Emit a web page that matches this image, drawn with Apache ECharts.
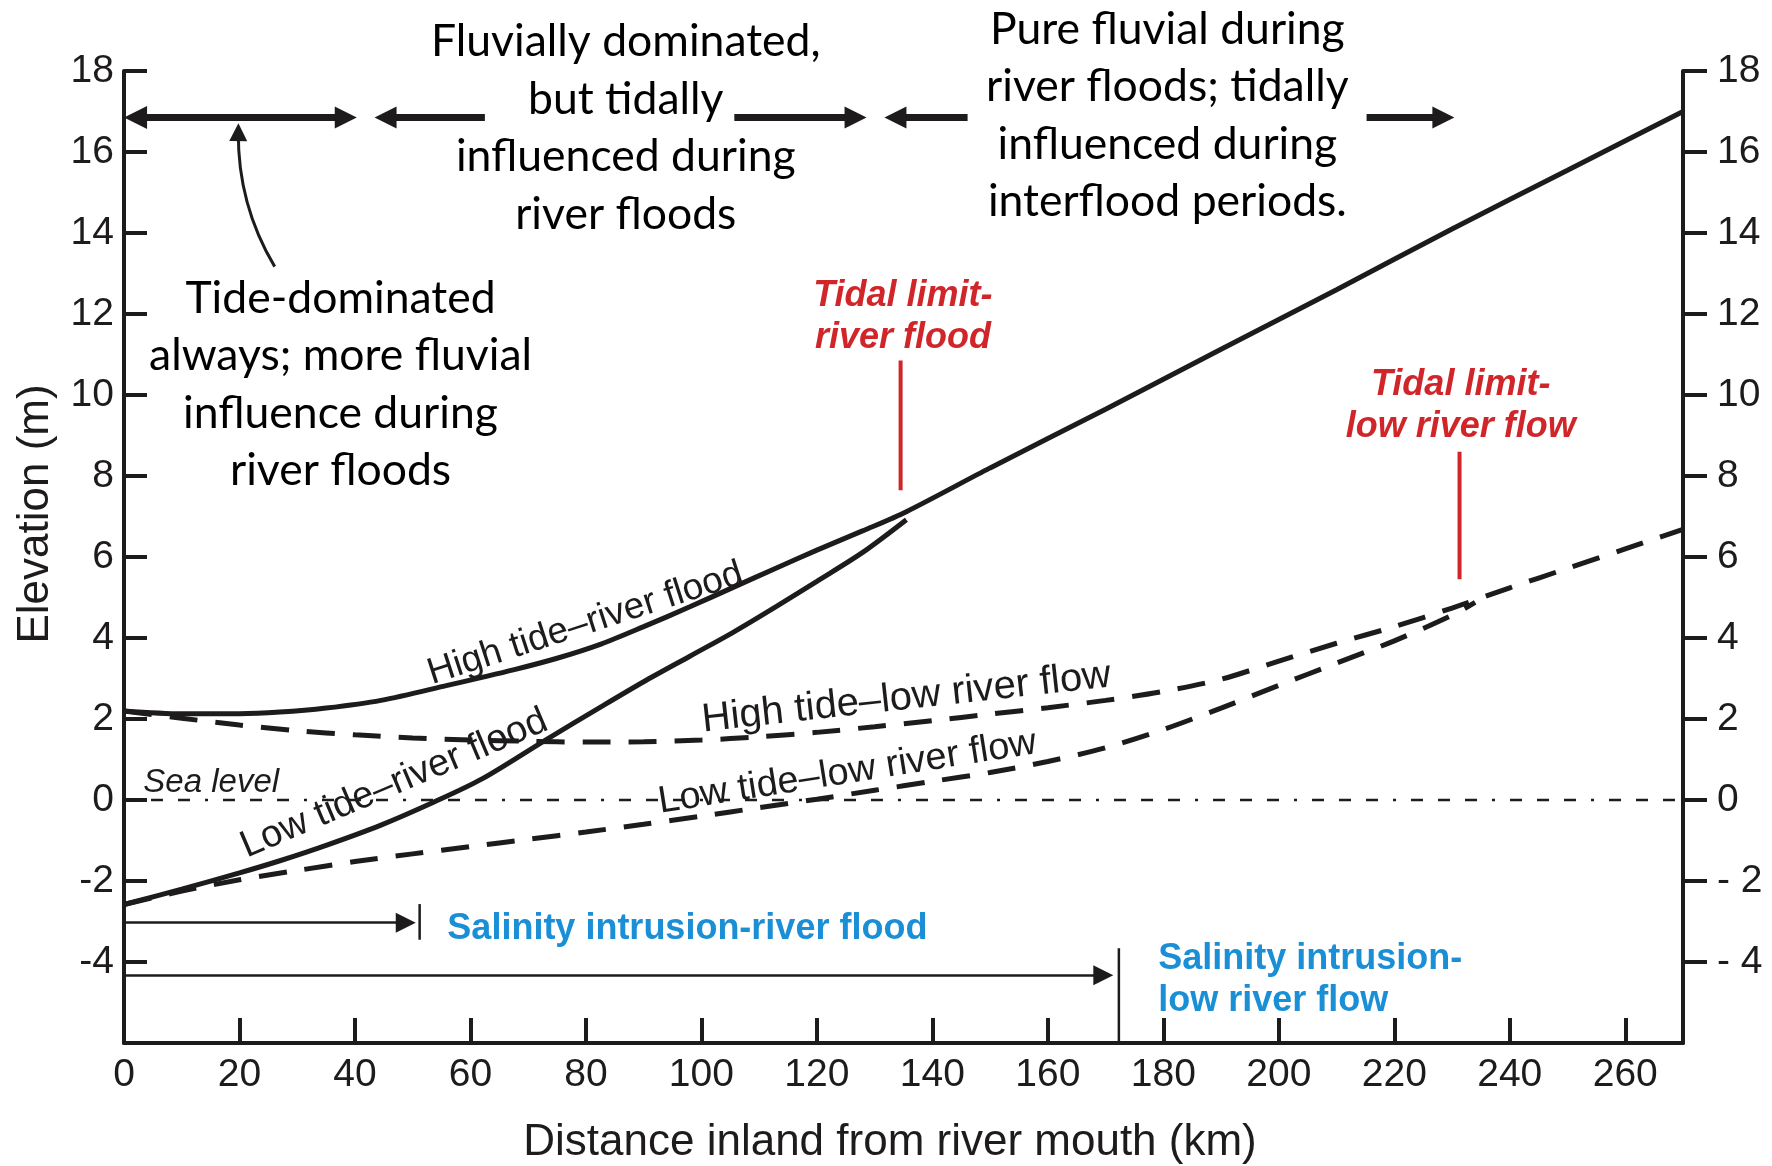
<!DOCTYPE html>
<html>
<head>
<meta charset="utf-8">
<title>Tidal and fluvial zones along a river</title>
<script src="https://cdn.jsdelivr.net/npm/echarts@6/dist/echarts.min.js"></script>
<style>
  html, body { margin: 0; padding: 0; background: #ffffff; }
  #chart { width: 1772px; height: 1166px; }
</style>
</head>
<body>
<div id="chart"></div>
<script>
// ---- axis ticks ----
const distanceTicks = [0, 20, 40, 60, 80, 100, 120, 140, 160, 180, 200, 220, 240, 260];
const elevationTicks = [-4, -2, 0, 2, 4, 6, 8, 10, 12, 14, 16, 18];

// ---- water-surface profiles: [distance km, elevation m] ----
const highTideRiverFlood = [
  [0, 2.2], [10, 2.13], [20, 2.13], [27, 2.17], [35, 2.27], [44.5, 2.46], [56, 2.83],
  [67.6, 3.22], [75, 3.5], [82.6, 3.85], [90, 4.28], [98, 4.77], [105.5, 5.25],
  [113, 5.73], [120, 6.17], [128, 6.65], [135.5, 7.12], [150, 8.2], [170, 9.65],
  [190, 11.13], [210, 12.6], [230, 14.1], [250, 15.55], [270, 17.0]
];
const lowTideRiverFlood = [
  [0, -2.58], [10, -2.2], [20, -1.8], [27, -1.5], [35, -1.12], [44.5, -0.62], [53.7, -0.05],
  [62, 0.52], [73, 1.48], [82.6, 2.3], [90, 2.92], [98, 3.55], [105.5, 4.14],
  [113, 4.78], [120, 5.4], [128, 6.12], [135.5, 6.92]
];
const highTideLowFlow = [
  [0, 2.2], [10, 2.02], [20, 1.85], [30, 1.71], [40, 1.61], [50, 1.53], [60, 1.48],
  [70, 1.45], [80, 1.43], [90, 1.44], [100, 1.48], [110, 1.56], [120, 1.67],
  [130, 1.81], [140, 1.96], [150, 2.12], [160, 2.28], [170, 2.46], [180, 2.68],
  [190, 2.98], [200, 3.43], [210, 3.87], [220, 4.28], [230, 4.74], [240, 5.24],
  [250, 5.72], [260, 6.2], [270, 6.68]
];
const lowTideLowFlow = [
  [0, -2.58], [10, -2.25], [20, -1.97], [30, -1.74], [40, -1.52], [50, -1.33],
  [60, -1.15], [70, -0.97], [80, -0.79], [90, -0.6], [100, -0.4], [110, -0.19],
  [120, 0.02], [130, 0.24], [140, 0.46], [150, 0.68], [160, 0.95], [170, 1.29],
  [180, 1.74], [190, 2.27], [200, 2.83], [210, 3.38], [220, 3.93], [230, 4.56], [234, 4.88]
];
const seaLevel = [[0, 0], [270, 0]];

// ---- tidal limits (red markers) ----
const tidalLimitFlood = [[134.5, 7.65], [134.5, 10.85]];
const tidalLimitLowFlow = [[231.3, 5.45], [231.3, 8.6]];

// ---- salinity intrusion reaches ----
const salinityFloodArrow = [[0, -3.03], [48.8, -3.03]];
const salinityFloodLimit = [[51.2, -2.57], [51.2, -3.45]];
const salinityLowFlowArrow = [[0, -4.33], [169.6, -4.33]];
const salinityLowFlowLimit = [[172.3, -3.66], [172.3, -6]];

// ---- zone arrows along the top ----
const zoneSpanBoth = [[2.0, 16.85], [38.4, 16.85]];
const zoneSpans = [
  [[62.5, 16.85], [45.3, 16.85]],
  [[105.7, 16.85], [126.7, 16.85]],
  [[146.1, 16.85], [133.6, 16.85]],
  [[215.2, 16.85], [228.5, 16.85]]
];
const tidePointer = [[26.1, 13.17], [19.8, 16.49]];

// ---- text ----
const zoneTexts = [
  'Tide-dominated\nalways; more fluvial\ninfluence during\nriver floods',
  'Fluvially dominated,\nbut tidally\ninfluenced during\nriver floods',
  'Pure fluvial during\nriver floods; tidally\ninfluenced during\ninterflood periods.'
];
const curveNames = [
  'High tide\u2013river flood',
  'Low tide\u2013river flood',
  'High tide\u2013low river flow',
  'Low tide\u2013low river flow'
];
const tidalLimitTexts = ['Tidal limit-\nriver flood', 'Tidal limit-\nlow river flow'];
const salinityTexts = ['Salinity intrusion-river flood', 'Salinity intrusion-\nlow river flow'];

const INK = '#1e1b1c';
const RED = '#d0262a';
const BLUE = '#1a8fd6';
const SANS = '"Liberation Sans", Arial, Helvetica, sans-serif';
const HUMANIST = 'Lato, "Open Sans", sans-serif';
const TRIANGLE = 'path://M5,0L10,10L0,10Z';

function profile(name, data, dashed) {
  return {
    type: 'line', name: name, data: data, showSymbol: false, symbol: 'none',
    smooth: 0.3, clip: false, silent: true, z: 4,
    lineStyle: { color: INK, width: 5, type: dashed ? [28, 18] : 'solid', cap: 'butt', opacity: 1 }
  };
}
function segment(data, color, width, type) {
  return {
    type: 'line', data: data, showSymbol: false, symbol: 'none', clip: false, silent: true, z: 3,
    lineStyle: { color: color, width: width, type: type || 'solid', cap: 'butt', opacity: 1 }
  };
}
function arrows(list, symbols, size, width, curveness) {
  return {
    type: 'lines', coordinateSystem: 'cartesian2d', polyline: false, silent: true, z: 5,
    symbol: symbols, symbolSize: size,
    lineStyle: { color: INK, width: width, opacity: 1, curveness: curveness || 0 },
    itemStyle: { color: INK, opacity: 1 },
    data: list.map(function (c) { return { coords: c }; })
  };
}
function note(text, x, y, style) {
  return {
    value: [x, y],
    label: Object.assign({ show: true, formatter: text, position: 'inside',
      align: 'center', verticalAlign: 'middle', color: INK }, style)
  };
}

const calibriLike = { fontFamily: HUMANIST, fontSize: 44.5, lineHeight: 57.5, color: '#000000' };
const curveLabel = { fontFamily: SANS, fontSize: 37 };
const redLabel = { fontFamily: SANS, fontSize: 36, fontWeight: 'bold', fontStyle: 'italic', color: RED, lineHeight: 42 };
const blueLabel = { fontFamily: SANS, fontSize: 36, fontWeight: 'bold', color: BLUE, lineHeight: 42, align: 'left' };

const notes = [
  note(zoneTexts[0], 37.5, 10.25, calibriLike),
  note(zoneTexts[1], 86.9, 16.59, calibriLike),
  note(zoneTexts[2], 180.7, 16.9, calibriLike),
  note(curveNames[0], 79.9, 4.35, Object.assign({ rotate: 18 }, curveLabel)),
  note(curveNames[1], 46.8, 0.4, Object.assign({ rotate: 23 }, curveLabel, { fontSize: 38 })),
  note(curveNames[2], 135.5, 2.52, Object.assign({ rotate: 6.3 }, curveLabel, { fontSize: 40 })),
  note(curveNames[3], 125.3, 0.68, Object.assign({ rotate: 9 }, curveLabel, { fontSize: 38 })),
  note('Sea level', 15.1, 0.43, { fontFamily: SANS, fontSize: 33, fontStyle: 'italic' }),
  note(tidalLimitTexts[0], 134.9, 11.92, redLabel),
  note(tidalLimitTexts[1], 231.5, 9.73, redLabel),
  note(salinityTexts[0], 56.0, -3.18, blueLabel),
  note(salinityTexts[1], 179.1, -4.44, blueLabel)
];

const axisInk = { color: INK, width: 4 };
const tickFont = { fontFamily: SANS, fontSize: 39, color: '#1e1b1c' };

const chart = echarts.init(document.getElementById('chart'), null, { renderer: 'canvas' });
chart.setOption({
  backgroundColor: '#ffffff',
  animation: false,
  grid: { left: 124, right: 89, top: 71, bottom: 123, containLabel: false, outerBoundsMode: 'none' },
  xAxis: {
    type: 'value', min: 0, max: 270,
    axisLine: { show: true, onZero: false, lineStyle: axisInk },
    axisTick: { show: true, inside: true, length: 25, lineStyle: axisInk,
      customValues: distanceTicks.filter(function (v) { return v > 0; }) },
    axisLabel: Object.assign({ margin: 13, customValues: distanceTicks }, tickFont),
    splitLine: { show: false }
  },
  yAxis: [
    {
      type: 'value', min: -6, max: 18, position: 'left',
      axisLine: { show: true, onZero: false, lineStyle: axisInk },
      axisTick: { show: true, inside: true, length: 23, lineStyle: axisInk, customValues: elevationTicks },
      axisLabel: Object.assign({ margin: 10, customValues: elevationTicks }, tickFont),
      splitLine: { show: false }
    },
    {
      type: 'value', min: -6, max: 18, position: 'right',
      axisLine: { show: true, onZero: false, lineStyle: axisInk },
      axisTick: { show: true, inside: false, length: 24, lineStyle: axisInk, customValues: elevationTicks },
      axisLabel: Object.assign({
        margin: 34, customValues: elevationTicks,
        formatter: function (v) { return v < 0 ? '- ' + Math.abs(v) : String(v); }
      }, tickFont),
      splitLine: { show: false }
    }
  ],
  graphic: [
    {
      type: 'text', x: 36, y: 514, rotation: Math.PI / 2, silent: true,
      style: { text: 'Elevation (m)', fontFamily: SANS, fontSize: 44, fill: '#1e1b1c',
        align: 'center', verticalAlign: 'middle', textAlign: 'center', textVerticalAlign: 'middle' }
    },
    {
      type: 'text', x: 890, y: 1143, silent: true,
      style: { text: 'Distance inland from river mouth (km)', fontFamily: SANS, fontSize: 44, fill: '#1e1b1c',
        align: 'center', verticalAlign: 'middle', textAlign: 'center', textVerticalAlign: 'middle' }
    }
  ],
  series: [
    segment(seaLevel, INK, 2.5, [12, 15, 12, 15, 12, 15, 3, 15]),
    profile(curveNames[0], highTideRiverFlood, false),
    profile(curveNames[1], lowTideRiverFlood, false),
    profile(curveNames[2], highTideLowFlow, true),
    profile(curveNames[3], lowTideLowFlow, true),
    segment(tidalLimitFlood, RED, 4),
    segment(tidalLimitLowFlow, RED, 4),
    segment(salinityFloodLimit, INK, 2.5),
    segment(salinityLowFlowLimit, INK, 2.5),
    arrows([salinityFloodArrow, salinityLowFlowArrow], ['none', TRIANGLE], [13, 20], 2.5),
    arrows([zoneSpanBoth], [TRIANGLE, TRIANGLE], [23, 22], 7),
    arrows(zoneSpans, ['none', TRIANGLE], [23, 22], 7),
    arrows([tidePointer], ['none', TRIANGLE], [14, 18], 3, 0.14),
    {
      type: 'scatter', data: notes, symbol: 'circle', symbolSize: 0, clip: false, silent: true, z: 6,
      itemStyle: { color: 'rgba(0,0,0,0)', opacity: 1 }
    }
  ]
});
</script>
</body>
</html>
